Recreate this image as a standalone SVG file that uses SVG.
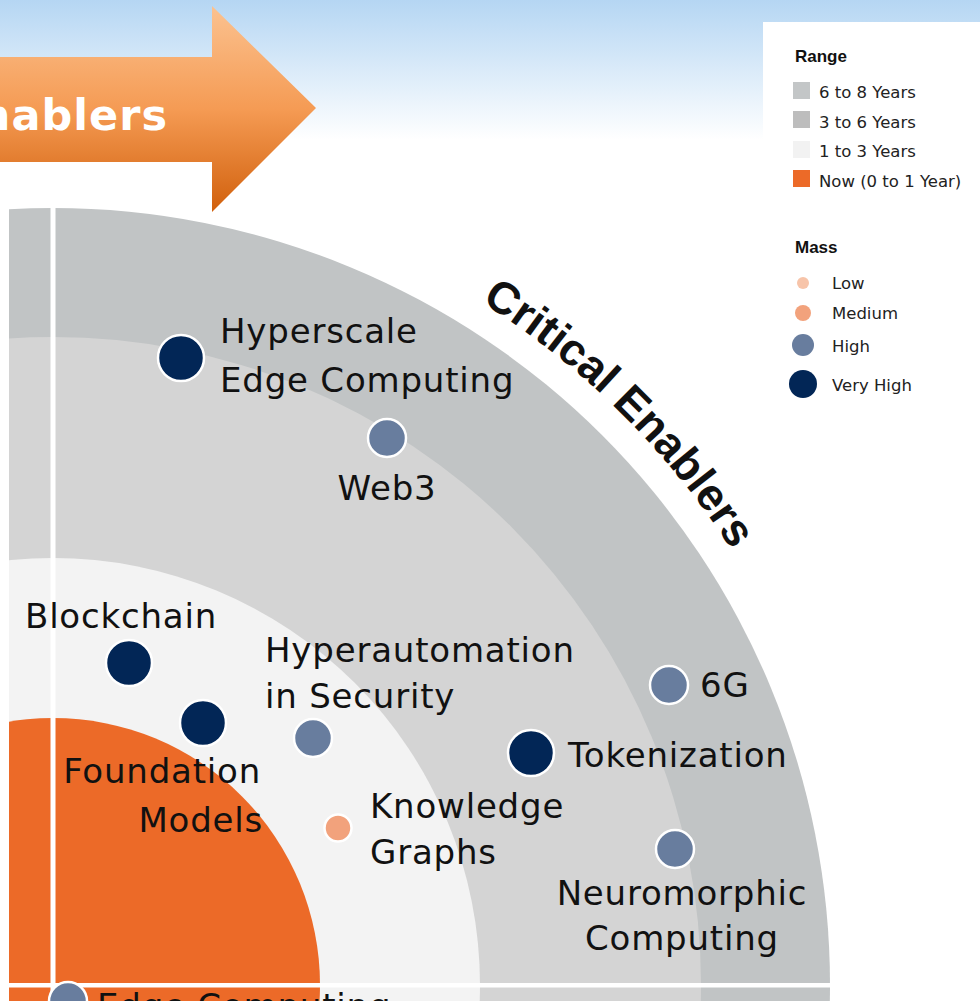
<svg xmlns="http://www.w3.org/2000/svg" width="980" height="1001" viewBox="0 0 980 1001">
<style>
.lbl{font-family:"DejaVu Sans","Liberation Sans",sans-serif;font-size:34px;fill:#111;letter-spacing:0.8px}
.leg{font-family:"DejaVu Sans","Liberation Sans",sans-serif;font-size:16.5px;fill:#222}
.legh{font-family:"Liberation Sans",Arial,sans-serif;font-size:17px;font-weight:bold;fill:#111}
.vh{fill:#022656;stroke:#fff;stroke-width:2.5}
.hi{fill:#687d9e;stroke:#fff;stroke-width:2.5}
.md{fill:#f2a27c;stroke:#fff;stroke-width:2.5}
</style>
<defs>
<linearGradient id="bg" x1="0" y1="0" x2="0" y2="1">
<stop offset="0" stop-color="#b5d6f3"/>
<stop offset="1" stop-color="#ffffff"/>
</linearGradient>
<linearGradient id="arr" gradientUnits="userSpaceOnUse" x1="0" y1="6" x2="0" y2="212">
<stop offset="0" stop-color="#fbc290"/>
<stop offset="0.5" stop-color="#f59b54"/>
<stop offset="1" stop-color="#d1600c"/>
</linearGradient>
<clipPath id="chartclip"><rect x="9" y="190" width="971" height="811"/></clipPath>
<path id="arcpath" d="M481.3 302.2 A806 806 0 0 1 810.4 709.3"/>
</defs>
<rect width="980" height="1001" fill="#fff"/>
<rect width="980" height="140" fill="url(#bg)"/>
<rect x="763" y="22" width="217" height="400" fill="#fff"/>

<g id="arrow">
<polygon points="-10,57 212,57 212,6 316,108 212,212 212,162 -10,162" fill="url(#arr)"/>
<text x="168" y="130" text-anchor="end" font-family="'DejaVu Sans','Liberation Sans',sans-serif" font-weight="bold" font-size="43" letter-spacing="1" fill="#fff">Enablers</text>
</g>

<g id="rings" clip-path="url(#chartclip)">
<circle cx="53" cy="985" r="777" fill="#c1c4c5"/>
<circle cx="53" cy="985" r="648" fill="#d4d4d4"/>
<circle cx="53" cy="985" r="427" fill="#f3f3f3"/>
<circle cx="53" cy="985" r="267" fill="#ec6a28"/>
<rect x="50.5" y="190" width="5" height="811" fill="#fff"/>
<rect x="9" y="983" width="840" height="4.5" fill="#fff"/>
</g>

<text font-family="'Liberation Sans',Arial,sans-serif" font-weight="bold" font-size="45" fill="#111"><textPath href="#arcpath">Critical Enablers</textPath></text>

<g id="connectors"></g>

<g id="node-hyperscale">
<circle class="vh" cx="181" cy="358" r="23"/>
<text class="lbl" x="220" y="343">Hyperscale</text>
<text class="lbl" x="220" y="392">Edge Computing</text>
</g>
<g id="node-web3">
<circle class="hi" cx="387" cy="438" r="19"/>
<text class="lbl" x="387" y="500" text-anchor="middle">Web3</text>
</g>
<g id="node-blockchain">
<circle class="vh" cx="129" cy="663" r="23"/>
<text class="lbl" x="25" y="628">Blockchain</text>
</g>
<g id="node-foundation">
<circle class="vh" cx="203" cy="723" r="23"/>
<text class="lbl" x="261" y="783" text-anchor="end">Foundation</text>
<text class="lbl" x="263" y="832" text-anchor="end">Models</text>
</g>
<g id="node-hyperautomation">
<circle class="hi" cx="313" cy="738" r="19"/>
<text class="lbl" x="265" y="662">Hyperautomation</text>
<text class="lbl" x="265" y="708">in Security</text>
</g>
<g id="node-knowledge">
<circle class="md" cx="338" cy="828" r="13.5"/>
<text class="lbl" x="370" y="818">Knowledge</text>
<text class="lbl" x="370" y="864">Graphs</text>
</g>
<g id="node-tokenization">
<circle class="vh" cx="531" cy="753" r="23"/>
<text class="lbl" x="568" y="767">Tokenization</text>
</g>
<g id="node-6g">
<circle class="hi" cx="669" cy="685" r="19"/>
<text class="lbl" x="700" y="697">6G</text>
</g>
<g id="node-neuromorphic">
<circle class="hi" cx="675" cy="849" r="19"/>
<text class="lbl" x="682" y="905" text-anchor="middle">Neuromorphic</text>
<text class="lbl" x="682" y="950" text-anchor="middle">Computing</text>
</g>
<g id="node-edge">
<circle class="hi" cx="68" cy="1001" r="19"/>
<text class="lbl" x="97" y="1018">Edge Computing</text>
</g>

<g id="legend">
<text class="legh" x="795" y="62">Range</text>
<rect x="793" y="82" width="17" height="17" fill="#c3c6c7"/>
<text class="leg" x="819" y="98">6 to 8 Years</text>
<rect x="793" y="111" width="17" height="17" fill="#bdbdbd"/>
<text class="leg" x="819" y="128">3 to 6 Years</text>
<rect x="793" y="141" width="17" height="17" fill="#f2f2f2"/>
<text class="leg" x="819" y="157">1 to 3 Years</text>
<rect x="793" y="170" width="17" height="17" fill="#ec6a28"/>
<text class="leg" x="819" y="187">Now (0 to 1 Year)</text>
<text class="legh" x="795" y="253">Mass</text>
<circle cx="803" cy="283" r="6" fill="#f7c4a9"/>
<text class="leg" x="832" y="289">Low</text>
<circle cx="803" cy="313" r="8" fill="#f2a27c"/>
<text class="leg" x="832" y="319">Medium</text>
<circle cx="803" cy="345" r="11" fill="#687d9e"/>
<text class="leg" x="832" y="352">High</text>
<circle cx="803" cy="384" r="14" fill="#022656"/>
<text class="leg" x="832" y="391">Very High</text>
</g>
</svg>
